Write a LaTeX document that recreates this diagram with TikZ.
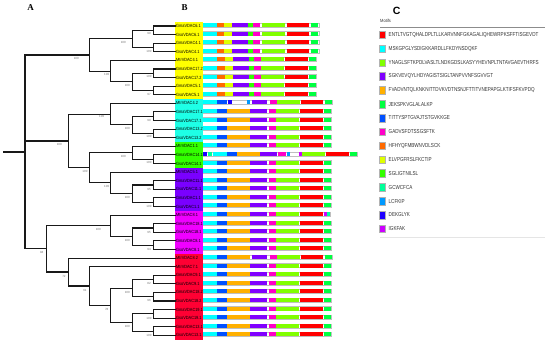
\documentclass[tikz,border=0pt]{standalone}
\usepackage{fontspec}
\setmainfont{Liberation Serif}
\setsansfont{Liberation Sans}
\definecolor{m1}{HTML}{FF0000}
\definecolor{m2}{HTML}{00FFFF}
\definecolor{m3}{HTML}{80FF00}
\definecolor{m4}{HTML}{8000FF}
\definecolor{m5}{HTML}{FFB000}
\definecolor{m6}{HTML}{00FF40}
\definecolor{m7}{HTML}{0050FF}
\definecolor{m8}{HTML}{FF00C8}
\definecolor{m9}{HTML}{FF6A00}
\definecolor{m10}{HTML}{DFFF00}
\definecolor{m11}{HTML}{33FF00}
\definecolor{m12}{HTML}{00FF99}
\definecolor{m13}{HTML}{0099FF}
\definecolor{m14}{HTML}{1E00FF}
\definecolor{m15}{HTML}{CC00FF}
\definecolor{bandY}{HTML}{FFFF00}
\definecolor{bandC}{HTML}{1EFFE6}
\definecolor{bandG}{HTML}{33FF00}
\definecolor{bandP}{HTML}{7A00FF}
\definecolor{bandM}{HTML}{F000FF}
\definecolor{bandR}{HTML}{FF0033}
\newcommand\mrow[3]{%
  \edef\mlist{#3}%
  \draw[rowbg] (130,{#1-3}) rectangle (#2,{#1+1});
  \foreach \c/\a/\b in \mlist {\fill[fill=\c] (\a,{#1-3}) rectangle (\b,{#1+1});}%
}
\def\patY{m2/130/170,m9/170/193,m10/193/215,m4/215/265,m11/265/280,m8/280/300,m3/305/375,m1/380/448,m6/453/475}
\def\patYb{m2/130/172,m9/172/195,m10/195/218,m4/218/268,m11/268/282,m8/282/302,m3/302/372,m1/375/443,m6/447/468}
\def\patS{m2/130/170,m7/170/200,m5/200/270,m4/270/320,m8/328/348,m3/348/418,m1/420/488,m6/492/513}
\def\patTen{m2/130/170,m7/170/200,m14/205/215,m13/262/270,m4/275/322,m8/330/350,m3/350/420,m1/422/490,m6/495/515}
\def\patSixteen{m14/130/140,m12/145/155,m2/160/200,m7/200/230,m5/230/300,m4/300/350,m8/355/378,m13/382/390,m15/418/425,m3/425/495,m1/497/568,m6/570/591}
\def\patTwentyThree{m2/130/170,m7/170/200,m5/200/270,m4/270/320,m8/328/348,m3/348/418,m1/420/488,m15/492/500,m12/500/510}
\def\patTwentyEight{m2/130/170,m7/170/200,m5/200/270,m4/275/322,m8/330/350,m3/350/420,m1/422/490,m6/495/515}
\tikzset{
  tree/.style={line width=1.1pt, draw=black!90},
  boot/.style={font=\sffamily\fontsize{3}{3}\selectfont, text=black!55, inner sep=0pt},
  leaf/.style={anchor=west, inner sep=0pt, font=\sffamily\fontsize{4.5}{4.5}\selectfont},
  rowbg/.style={draw=black!25, fill=white, line width=0.35pt},
  lgsq/.style={draw=black!30, line width=0.3pt, minimum width=6.5pt, minimum height=7.5pt, inner sep=0pt},
  lgtxt/.style={anchor=west, inner sep=0pt, text=black!80, font=\sffamily\fontsize{5.8}{5.8}\selectfont},
  panel/.style={inner sep=0pt, font=\rmfamily\bfseries\fontsize{9}{9}\selectfont}
}
\begin{document}
\begin{tikzpicture}[x=1pt,y=-1pt]
\useasboundingbox (0,0) rectangle (550,344);
% panel letters
\node[panel] (hA) at (30.5,8) {A};
\node[panel] (hB) at (184.7,8) {B};
\node[inner sep=0pt, font=\sffamily\bfseries\fontsize{10.5}{10.5}\selectfont] (hC) at (396.7,11) {C};
% label bands
\fill[bandY] (175,21.7) rectangle (202.7,99.06);
\fill[bandC] (175,99.06) rectangle (202.7,142.04);
\fill[bandG] (175,142.04) rectangle (202.7,167.82);
\fill[bandP] (175,167.82) rectangle (202.7,210.8);
\fill[bandM] (175,210.8) rectangle (202.7,253.77);
\fill[bandR] (175,253.77) rectangle (202.7,339.72);
% leaves
\foreach \n [count=\i] in {GmaVDAC6.1,GsoVDAC6.1,GmaVDAC4.1,GsoVDAC4.1,MtrVDAC4.1,GmaVDAC17.2,GsoVDAC17.2,GmaVDAC5.1,GsoVDAC5.1,MtrVDAC4.2,GmaVDAC17.1,GsoVDAC17.1,GmaVDAC13.2,GsoVDAC13.2,MtrVDAC1.1,GmaVDAC14.1,GsoVDAC14.1,MtrVDAC5.1,GmaVDAC11.1,GsoVDAC11.1,GmaVDAC1.1,GsoVDAC1.1,MtrVDAC8.1,GmaVDAC18.1,GsoVDAC18.1,GmaVDAC8.1,GsoVDAC8.1,MtrVDAC8.2,MtrVDAC7.1,GmaVDAC9.1,GsoVDAC9.1,GmaVDAC18.2,GsoVDAC18.2,GmaVDAC19.1,GsoVDAC19.1,GmaVDAC13.1,GsoVDAC13.1}
  {\node[leaf] (l\i) at (176,{26+(\i-1)*8.595}) {\scalebox{0.86}[1]{\n}};}
% internal nodes
\coordinate (stem) at (3.3,151.98);
\coordinate (root) at (25,151.98);
\coordinate (nY) at (89.3,55.01);
\coordinate (n1234) at (132.7,38.9);
\coordinate (n12) at (153.3,30.3);
\coordinate (n34) at (153.3,47.49);
\coordinate (n5r) at (110.7,71.13);
\coordinate (n6789) at (132.7,81.87);
\coordinate (n67) at (153.3,73.28);
\coordinate (n89) at (153.3,90.47);
\coordinate (nM) at (68.3,140.96);
\coordinate (nC) at (110.7,114.1);
\coordinate (n1114) at (132.7,124.85);
\coordinate (n1112) at (153.3,116.25);
\coordinate (n1314) at (153.3,133.44);
\coordinate (nGP) at (89.3,167.82);
\coordinate (nG) at (132.7,152.78);
\coordinate (n1617) at (153.3,159.23);
\coordinate (nP) at (110.7,182.86);
\coordinate (n1922) at (132.7,193.6);
\coordinate (n1920) at (153.3,185.01);
\coordinate (n2122) at (153.3,202.2);
\coordinate (nB) at (46.7,248.94);
\coordinate (nMag) at (110.7,225.84);
\coordinate (n2427) at (132.7,236.58);
\coordinate (n2425) at (153.3,227.99);
\coordinate (n2627) at (153.3,245.18);
\coordinate (nR) at (68.3,272.04);
\coordinate (n2937) at (89.3,286);
\coordinate (n3037) at (110.7,305.34);
\coordinate (n3033) at (132.7,288.15);
\coordinate (n3031) at (153.3,279.56);
\coordinate (n3233) at (153.3,296.75);
\coordinate (n3437) at (132.7,322.53);
\coordinate (n3435) at (153.3,313.94);
\coordinate (n3637) at (153.3,331.13);
% tree edges
\draw[tree] (stem) -- (root);
\foreach \p/\c in {root/nY,root/nM,root/nB,
  nY/n1234,nY/n5r,n1234/n12,n1234/n34,n5r/n6789,n6789/n67,n6789/n89,
  nM/nC,nM/nGP,nC/n1114,n1114/n1112,n1114/n1314,nGP/nG,nGP/nP,nG/n1617,nP/n1922,n1922/n1920,n1922/n2122,
  nB/nMag,nB/nR,nMag/n2427,n2427/n2425,n2427/n2627,nR/n2937,n2937/n3037,n3037/n3033,n3037/n3437,n3033/n3031,n3033/n3233,n3437/n3435,n3437/n3637}
  {\draw[tree] (\p) |- (\c);}
\foreach \p/\c in {n12/1,n12/2,n34/3,n34/4,n5r/5,n67/6,n67/7,n89/8,n89/9,
  nC/10,n1112/11,n1112/12,n1314/13,n1314/14,nG/15,n1617/16,n1617/17,nP/18,n1920/19,n1920/20,n2122/21,n2122/22,
  nMag/23,n2425/24,n2425/25,n2627/26,n2627/27,nR/28,n2937/29,n3031/30,n3031/31,n3233/32,n3233/33,n3435/34,n3435/35,n3637/36,n3637/37}
  {\draw[tree] (\p) |- (l\c.west);}
% bootstrap values
\foreach \bx/\by/\bt [count=\k] in {149/33.3/99,149/51/100,123.3/42.7/100,149/76.7/100,149/94/97,127.3/85.3/100,106.7/74.3/100,76.3/58.3/100,
  59.3/144.3/100,101.7/116/100,127.3/128.3/100,149/120/99,149/136.7/100,85/171/100,123.3/156.7/100,149/162.7/100,106.7/186.7/100,127.3/197.7/100,149/189/95,149/206/100,
  41.7/252.7/94,98.3/229.3/100,127.3/240.7/100,149/232.3/95,149/249.3/94,64/276.7/72,85/290/61,106.7/309.3/78,127.3/292.3/100,149/283.3/82,149/300.7/96,127.3/326.7/100,149/318.3/100,149/335.3/100}
  {\node[boot] (b\k) at (\bx,\by) {\bt};}
% motif bars
\begin{scope}[x=0.33333pt, xshift=160pt]
\foreach \i in {1,...,4} {\mrow{26+(\i-1)*8.595}{478}{\patY}}
\foreach \i in {5,...,9} {\mrow{26+(\i-1)*8.595}{470}{\patYb}}
\mrow{26+9*8.595}{517}{\patTen}
\foreach \i in {11,...,15,17,18,...,22,24,25,...,27,29,30,...,37} {\mrow{26+(\i-1)*8.595}{515}{\patS}}
\mrow{26+15*8.595}{592}{\patSixteen}
\mrow{26+22*8.595}{512}{\patTwentyThree}
\mrow{26+27*8.595}{517}{\patTwentyEight}
\end{scope}
% legend
\node[anchor=west, inner sep=0pt, text=black!80, font=\sffamily\fontsize{4.5}{4.5}\selectfont] (mhead) at (380,20.5) {\scalebox{0.9}[1]{Motifs}};
\draw[black!45, line width=0.6pt] (380,27) -- (545,27);
\draw[black!10, line width=0.5pt] (380,237.3) -- (545,237.3);
\foreach \t [count=\i] in {ENTLTVGTQHALDPLTLLKARVNNFGKAGALIQHEWRPKSFFTISGEVDT,MSKGPGLYSDIGKKARDLLFKDYNSDQKF,YNAGLSFTKPDLVASLTLNDKGDSLKASYYHEVNPLTNTAVGAEVTHRFS,SGKVEVQYLHDYAGISTSIGLTANPVVNFSGVVGT,FVADVNTQLKNKNITTDVKVDTNSNJFTTITVNEPAPGLKTIFSFKVPDQ,JEKSPKVGLALALKP,TITTYSPTGVAJTSTGVKKGE,GADVSFDTSSGSFTK,HFHYQFMBWNVDLSCK,ELVPGFRSLFKCTIP,SGLIGTNILSL,GCWCFCA,LCFKIP,DEKGLYK,IGKFAK}
  {\node[lgsq, fill=m\i] (k\i) at (382,{34.8+(\i-1)*13.86}) {};
   \node[lgtxt] (t\i) at (388.5,{34.8+(\i-1)*13.86}) {\scalebox{0.79}[1]{\t}};}
\end{tikzpicture}
\end{document}
